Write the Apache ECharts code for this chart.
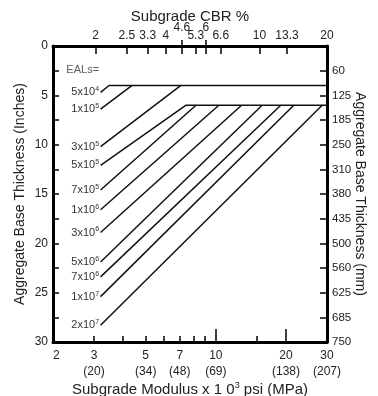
<!DOCTYPE html>
<html><head><meta charset="utf-8">
<script src="https://cdn.jsdelivr.net/npm/echarts@6/dist/echarts.min.js"></script>
<style>html,body{margin:0;padding:0;background:#fff}#c{width:378px;height:396px}</style>
</head><body><div id="c"></div>
<script>
// ---- data ----
const ealMantissa = ['5','1','3','5','7','1','3','5','7','1','2'];
const ealExponent = ['4','5','5','5','5','6','6','6','6','7','7'];
const startModulus = [3.2,3.2,3.2,3.2,3.2,3.2,3.2,3.2,3.2,3.2,3.2];
const startThickness = [4.7,6.4,10.2,12.1,14.6,16.6,18.9,21.9,23.4,25.4,28.3];
const bendModulus = [3.48,4.37,7.08,7.45,8.22,10.3,12.9,15.8,19.0,21.6,28.6];
const bendThickness = [4,4,4,6,6,6,6,6,6,6,6];
const ealsCaption = 'EALs=';
const ealsCaptionPos = [3.2, 2.4];

const modulusMin = 2, modulusMax = 30;
const modulusMinorTicks = [3,4,5,6,7,8,9,15];
const modulusMajorTicks = [10,20];
const modulusLabelValues = [2,3,5,7,10,20,30];
const mpaLabels = ['','(20)','(34)','(48)','(69)','(138)','(207)'];

const cbrLabels = ['2','2.5','3.3','4','4.6','5.3','6','6.6','10','13.3','20'];
const cbrAtModulus = [3.05,4.15,5.1,6.1,7.15,8.2,9.05,10.5,15.4,20.2,30];
const cbrUpperRow = ['4.6','6'];

const thicknessMin = 0, thicknessMax = 30, thicknessStep = 2.5;
const thicknessMmLabels = ['','60','125','185','250','310','380','435','500','560','625','685','750'];

// ---- chart ----
const FONT = 'Liberation Sans, Arial, sans-serif';
const INK = '#000';
const TXT = '#222';
const L = Math.log10;
const near = (arr, v) => arr.findIndex(a => Math.abs(L(a) - v) < 1e-6);

const lowerIdx = cbrLabels.map((c, i) => i).filter(i => cbrUpperRow.indexOf(cbrLabels[i]) < 0);
const upperIdx = cbrLabels.map((c, i) => i).filter(i => cbrUpperRow.indexOf(cbrLabels[i]) >= 0);

const supRich = {
  b: {fontSize: 11, fontFamily: FONT, color: '#333'},
  s: {fontSize: 7, fontFamily: FONT, color: '#333', padding: [0, 0, 6, 0]}
};

const series = [];
const horizDone = {};
for (let i = 0; i < ealMantissa.length; i++) {
  const pts = [
    {value: [startModulus[i], startThickness[i]],
     label: {show: true, position: 'left', distance: 1,
             formatter: '{b|' + ealMantissa[i] + 'x10}{s|' + ealExponent[i] + '}', rich: supRich}},
    {value: [bendModulus[i], bendThickness[i]]}
  ];
  if (!horizDone[bendThickness[i]]) {
    pts.push({value: [modulusMax, bendThickness[i]]});
    horizDone[bendThickness[i]] = true;
  }
  series.push({
    type: 'line', xAxisIndex: 0, yAxisIndex: 0, data: pts,
    symbol: 'circle', symbolSize: 1, showSymbol: true,
    itemStyle: {color: 'rgba(0,0,0,0)'},
    lineStyle: {color: '#111', width: 1.5},
    silent: true, animation: false, z: 3
  });
}
series.push({
  type: 'scatter', xAxisIndex: 0, yAxisIndex: 0,
  data: [{value: ealsCaptionPos}], symbolSize: 1, itemStyle: {color: 'rgba(0,0,0,0)'},
  label: {show: true, position: 'left', distance: 1, formatter: ealsCaption,
          fontSize: 11, fontFamily: FONT, color: '#333'},
  silent: true, animation: false
});

const logRange = {min: L(modulusMin), max: L(modulusMax)};

const option = {
  animation: false,
  backgroundColor: '#fff',
  grid: {left: 53, right: 51, top: 46, bottom: 54, containLabel: false, outerBoundsMode: 'none'},
  xAxis: [
    {type: 'log', logBase: 10, min: modulusMin, max: modulusMax, position: 'bottom', show: false,
     axisLine: {onZero: false}},
    {type: 'value', position: 'bottom', min: logRange.min, max: logRange.max,
     axisLine: {show: true, onZero: false, lineStyle: {color: INK, width: 3}},
     axisTick: {show: true, inside: true, length: 6, customValues: modulusMinorTicks.map(L),
                lineStyle: {color: INK, width: 1.5}},
     axisLabel: {customValues: modulusLabelValues.map(L), margin: 6, color: TXT, fontSize: 12,
                 fontFamily: FONT, lineHeight: 16, alignMinLabel: 'left',
                 formatter: v => { const i = near(modulusLabelValues, v); if (i < 0) return '';
                   return String(modulusLabelValues[i]) + (mpaLabels[i] ? '\n' + mpaLabels[i] : ''); }},
     splitLine: {show: false},
     name: 'Subgrade Modulus x 1 0{s|3} psi (MPa)', nameLocation: 'middle', nameGap: 39,
     nameMoveOverlap: false,
     nameTextStyle: {fontSize: 15, fontFamily: FONT, color: TXT,
                     rich: {s: {fontSize: 9, fontFamily: FONT, color: TXT, padding: [0, 0, 8, 0]}}}},
    {type: 'value', position: 'bottom', min: logRange.min, max: logRange.max,
     axisLine: {show: false, onZero: false},
     axisTick: {show: true, inside: true, length: 13, customValues: modulusMajorTicks.map(L),
                lineStyle: {color: INK, width: 1.5}},
     axisLabel: {show: false}, splitLine: {show: false}},
    {type: 'value', position: 'top', min: logRange.min, max: logRange.max,
     axisLine: {show: true, onZero: false, lineStyle: {color: INK, width: 3}},
     axisTick: {show: true, inside: true, length: 8, customValues: cbrAtModulus.map(L),
                lineStyle: {color: INK, width: 1.5}},
     axisLabel: {customValues: lowerIdx.map(i => L(cbrAtModulus[i])), margin: 4, color: TXT,
                 fontSize: 12, fontFamily: FONT,
                 formatter: v => { const i = near(cbrAtModulus, v); return i < 0 ? '' : cbrLabels[i]; }},
     splitLine: {show: false},
     name: 'Subgrade CBR %', nameLocation: 'middle', nameGap: 22, nameMoveOverlap: false,
     nameTextStyle: {fontSize: 15, fontFamily: FONT, color: TXT}},
    {type: 'value', position: 'top', min: logRange.min, max: logRange.max,
     axisLine: {show: false, onZero: false},
     axisTick: {show: true, inside: false, length: 6, customValues: upperIdx.map(i => L(cbrAtModulus[i])),
                lineStyle: {color: INK, width: 1.5}},
     axisLabel: {customValues: upperIdx.map(i => L(cbrAtModulus[i])), margin: 12, color: TXT,
                 fontSize: 12, fontFamily: FONT,
                 formatter: v => { const i = near(cbrAtModulus, v); return i < 0 ? '' : cbrLabels[i]; }},
     splitLine: {show: false}}
  ],
  yAxis: [
    {type: 'value', position: 'left', inverse: true, min: thicknessMin, max: thicknessMax, interval: thicknessStep,
     axisLine: {show: true, onZero: false, lineStyle: {color: INK, width: 3}},
     axisTick: {show: true, inside: true, length: 6, lineStyle: {color: INK, width: 1.5}},
     axisLabel: {margin: 5, color: TXT, fontSize: 12, fontFamily: FONT,
                 formatter: v => (Math.abs(v % 5) < 1e-9 ? String(v) : '')},
     splitLine: {show: false},
     name: 'Aggregate Base Thickness (Inches)', nameLocation: 'middle', nameGap: 26, nameRotate: 90,
     nameMoveOverlap: false,
     nameTextStyle: {fontSize: 14, fontFamily: FONT, color: TXT}},
    {type: 'value', position: 'right', inverse: true, min: thicknessMin, max: thicknessMax, interval: thicknessStep,
     axisLine: {show: true, onZero: false, lineStyle: {color: INK, width: 3}},
     axisTick: {show: true, inside: true, length: 7, lineStyle: {color: INK, width: 1.5}},
     axisLabel: {margin: 5, color: TXT, fontSize: 11.5, fontFamily: FONT,
                 formatter: v => thicknessMmLabels[Math.round(v / thicknessStep)] || ''},
     splitLine: {show: false},
     name: 'Aggregate Base Thickness (mm)', nameLocation: 'middle', nameGap: 26, nameRotate: -90,
     nameMoveOverlap: false,
     nameTextStyle: {fontSize: 14, fontFamily: FONT, color: TXT}}
  ],
  series: series
};

const chart = echarts.init(document.getElementById('c'), null, {renderer: 'canvas'});
chart.setOption(option);
</script>
</body></html>
